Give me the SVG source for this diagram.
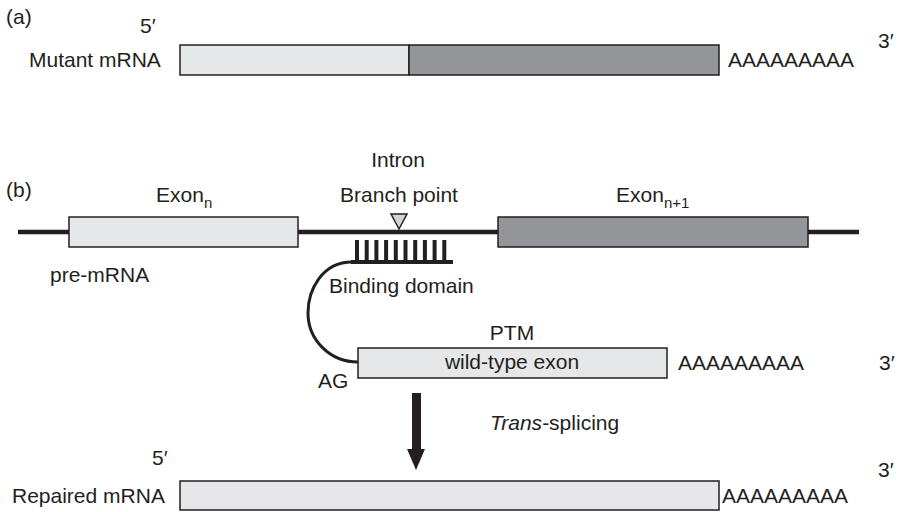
<svg xmlns="http://www.w3.org/2000/svg" width="903" height="512" viewBox="0 0 903 512">
  <style>
    text { font-family: "Liberation Sans", Arial, Helvetica, sans-serif; font-size: 21px; fill: #231f20; }
    .sub { font-size: 15px; }
    .light { fill: #e6e7e8; stroke: #231f20; stroke-width: 1.5; }
    .dark { fill: #939598; stroke: #231f20; stroke-width: 1.5; }
    .strand { stroke: #231f20; stroke-width: 4.5; fill: none; }
    .tooth { stroke: #231f20; stroke-width: 4; }
  </style>

  <!-- (a) mutant transcript -->
  <g id="panel-a-label"><text x="6" y="24">(a)</text></g>
  <g id="mutant-mrna">
    <text x="140" y="33">5′</text>
    <text x="29" y="67">Mutant mRNA</text>
    <rect class="light" x="180" y="45" width="229" height="30"/>
    <rect class="dark" x="409" y="45" width="310" height="30"/>
    <text x="728" y="67">AAAAAAAAA</text>
    <text x="878" y="48">3′</text>
  </g>

  <!-- (b) pre-mRNA with intron and PTM -->
  <g id="panel-b-label"><text x="6" y="197">(b)</text></g>

  <g id="connectors">
    <!-- pre-mRNA backbone -->
    <line class="strand" x1="18" y1="232" x2="859" y2="232"/>
    <!-- PTM tether from binding domain to exon -->
    <path d="M 352 262 C 322 262 308 290 308 313 C 308 340 330 362 358 362" fill="none" stroke="#231f20" stroke-width="3"/>
    <!-- trans-splicing arrow -->
    <rect x="412" y="393" width="9" height="57" fill="#231f20"/>
    <polygon points="407,449 425,449 416,470" fill="#231f20"/>
  </g>

  <g id="exon-n">
    <text x="156" y="202">Exon<tspan class="sub" dy="6">n</tspan></text>
    <rect class="light" x="69" y="217" width="229" height="30"/>
  </g>

  <g id="intron">
    <text x="398" y="167" text-anchor="middle">Intron</text>
    <text x="399" y="202" text-anchor="middle">Branch point</text>
    <polygon points="391,214 407,214 399,229" fill="#d1d3d4" stroke="#231f20" stroke-width="1.5"/>
  </g>

  <g id="exon-n1">
    <text x="616" y="202">Exon<tspan class="sub" dy="6">n+1</tspan></text>
    <rect class="dark" x="498" y="217" width="310" height="30"/>
  </g>

  <g id="pre-mrna-label"><text x="50" y="282">pre-mRNA</text></g>

  <g id="binding-domain">
    <line x1="351" y1="262" x2="453" y2="262" stroke="#231f20" stroke-width="4"/>
    <line class="tooth" x1="357" y1="240" x2="357" y2="262"/>
    <line class="tooth" x1="366.7" y1="240" x2="366.7" y2="262"/>
    <line class="tooth" x1="376.4" y1="240" x2="376.4" y2="262"/>
    <line class="tooth" x1="386.1" y1="240" x2="386.1" y2="262"/>
    <line class="tooth" x1="395.8" y1="240" x2="395.8" y2="262"/>
    <line class="tooth" x1="405.5" y1="240" x2="405.5" y2="262"/>
    <line class="tooth" x1="415.2" y1="240" x2="415.2" y2="262"/>
    <line class="tooth" x1="424.9" y1="240" x2="424.9" y2="262"/>
    <line class="tooth" x1="434.6" y1="240" x2="434.6" y2="262"/>
    <line class="tooth" x1="444.3" y1="240" x2="444.3" y2="262"/>
    <text x="329" y="293">Binding domain</text>
  </g>

  <g id="ptm">
    <text x="512" y="340" text-anchor="middle">PTM</text>
    <rect class="light" x="358" y="348" width="309" height="30"/>
    <text x="512" y="369" text-anchor="middle">wild-type exon</text>
    <text x="318" y="388">AG</text>
    <text x="678" y="370">AAAAAAAAA</text>
    <text x="879" y="370">3′</text>
  </g>

  <g id="trans-splicing-label">
    <text x="490" y="430"><tspan font-style="italic">Trans</tspan>-splicing</text>
  </g>

  <g id="repaired-mrna">
    <text x="152" y="465">5′</text>
    <text x="12" y="503">Repaired mRNA</text>
    <rect class="light" x="180" y="481" width="539" height="29"/>
    <text x="722" y="503">AAAAAAAAA</text>
    <text x="878" y="477">3′</text>
  </g>
</svg>
